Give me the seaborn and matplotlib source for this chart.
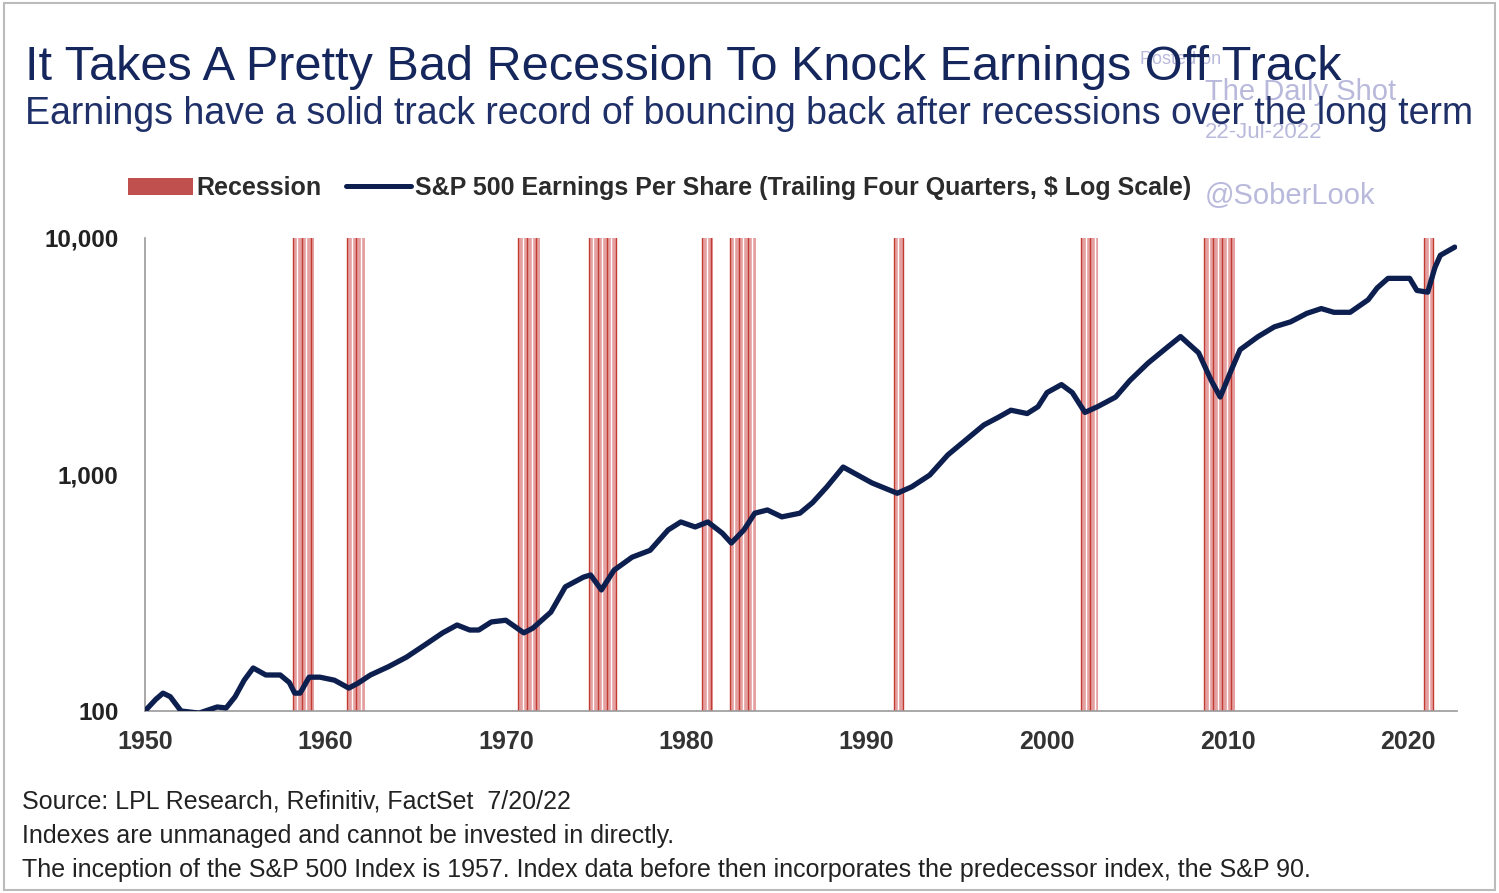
import numpy as np
import pandas as pd
import seaborn as sns
import matplotlib.pyplot as plt
from matplotlib.patches import Patch, Rectangle
from matplotlib.lines import Line2D

# S&P 500 EPS (trailing four quarters, log scale)
years = [1950.0, 1950.6, 1951.0, 1951.4, 1952.0, 1953.0, 1954.0, 1954.5, 1955.0, 1955.5,
         1956.0, 1956.7, 1957.5, 1958.0, 1958.3, 1958.6, 1959.1, 1959.7, 1960.5, 1961.3,
         1961.8, 1962.5, 1963.5, 1964.5, 1965.5, 1966.5, 1967.3, 1968.0, 1968.5, 1969.2,
         1970.0, 1971.0, 1971.5, 1972.5, 1973.3, 1974.3, 1974.7, 1975.3, 1976.0, 1977.0,
         1978.0, 1979.0, 1979.7, 1980.5, 1981.2, 1982.0, 1982.5, 1983.2, 1983.8, 1984.5,
         1985.3, 1986.3, 1987.0, 1987.8, 1988.7, 1989.5, 1990.3, 1991.7, 1992.5, 1993.5,
         1994.5, 1995.5, 1996.5, 1997.3, 1998.0, 1998.9, 1999.5, 2000.0, 2000.8, 2001.4,
         2002.1, 2002.8, 2003.8, 2004.6, 2005.6, 2006.5, 2007.4, 2008.4, 2009.1, 2009.6,
         2010.2, 2010.7, 2011.7, 2012.6, 2013.5, 2014.4, 2015.2, 2015.9, 2016.8, 2017.8,
         2018.3, 2018.9, 2020.1, 2020.5, 2021.1, 2021.5, 2021.8, 2022.6]
eps = [100, 112, 119, 115, 100, 98, 104, 103, 115, 135,
       152, 142, 142, 132, 119, 119, 139, 139, 135, 125,
       131, 142, 154, 169, 190, 214, 231, 220, 220, 238,
       242, 214, 224, 262, 335, 368, 376, 325, 394, 447,
       478, 583, 630, 600, 630, 565, 513, 583, 686, 708,
       662, 686, 760, 887, 1075, 995, 921, 833, 887, 995,
       1210, 1400, 1620, 1745, 1870, 1810, 1935, 2220, 2400, 2220,
       1830, 1935, 2125, 2500, 2960, 3370, 3830, 3270, 2500, 2125,
       2750, 3370, 3830, 4210, 4420, 4800, 5030, 4850, 4850, 5480,
       6150, 6750, 6750, 6000, 5900, 7500, 8450, 9150]

rec_start = [1958.2, 1961.2, 1970.7, 1974.6, 1980.9, 1982.4, 1991.5, 2001.9, 2008.7, 2020.9]
rec_end = [1959.35, 1962.2, 1971.9, 1976.15, 1981.5, 1983.85, 1992.05, 2002.8, 2010.4, 2021.45]

y_ticks = [100, 1000, 10000]
y_labels = ['100', '1,000', '10,000']
x_ticks = list(range(1950, 2030, 10))

navy = '#0d1f4f'
pink = '#e5a1a1'
dark_red = '#c23b32'

sns.set_style('white')
plt.rcParams['font.family'] = ['Liberation Sans', 'DejaVu Sans']

fig = plt.figure(figsize=(14.99, 8.93), dpi=100)
ax = fig.add_axes([0.0967, 0.2038, 0.875, 0.5297])

for s, e in zip(rec_start, rec_end):
    ax.axvspan(s, e, color=pink, lw=0, zorder=1)
    for i, p in enumerate(np.arange(s, e, 0.25)):
        ax.axvline(p, color=dark_red if i % 2 == 0 else 'white', lw=1.0, zorder=1.5)

df = pd.DataFrame({'year': years, 'eps': eps})
sns.lineplot(data=df, x='year', y='eps', color=navy, lw=3.8, ax=ax, zorder=3)
ax.get_lines()[-1].set_solid_joinstyle('round')

ax.set_yscale('log')
ax.set_ylim(100, 10000)
ax.set_xlim(1950, 2022.7)
ax.set_yticks(y_ticks)
ax.set_yticklabels(y_labels)
ax.minorticks_off()
ax.set_xticks(x_ticks)
ax.set_xlabel('')
ax.set_ylabel('')
for lab in ax.get_yticklabels():
    lab.set_fontweight('bold')
    lab.set_fontsize(17.5)
    lab.set_color('#222222')
for lab in ax.get_xticklabels():
    lab.set_fontweight('bold')
    lab.set_fontsize(18)
    lab.set_color('#333333')
ax.tick_params(axis='both', direction='out', length=5, width=1, color='#888888')
ax.tick_params(axis='y', pad=14)
ax.tick_params(axis='x', pad=9)
sns.despine(ax=ax, top=True, right=True)
for sp in ['left', 'bottom']:
    ax.spines[sp].set_color('#999999')
    ax.spines[sp].set_linewidth(1.2)

# watermark (drawn first so the title sits over it)
wm = '#b9b9dc'
fig.text(1140 / 1499, 1 - 60 / 893, 'Posted on', fontsize=13, color=wm, va='center')
fig.text(1205 / 1499, 1 - 92 / 893, 'The Daily Shot', fontsize=21, color=wm, va='center')
fig.text(1205 / 1499, 1 - 132 / 893, '22-Jul-2022', fontsize=16, color=wm, va='center')
fig.text(1205 / 1499, 1 - 196 / 893, '@SoberLook', fontsize=21, color=wm, va='center')

# titles
fig.text(25 / 1499, 1 - 67 / 893, 'It Takes A Pretty Bad Recession To Knock Earnings Off Track',
         fontsize=35, color='#14265c', va='center', ha='left')
fig.text(25 / 1499, 1 - 114 / 893,
         'Earnings have a solid track record of bouncing back after recessions over the long term',
         fontsize=27, color='#1f3068', va='center', ha='left')

# legend
handles = [Patch(facecolor='#c0504d', edgecolor='none'),
           Line2D([], [], color=navy, lw=3.6)]
labels = ['Recession', 'S&P 500 Earnings Per Share (Trailing Four Quarters, $ Log Scale)']
leg = fig.legend(handles, labels, loc='center left', bbox_to_anchor=(105 / 1499, 1 - 188 / 893),
                 ncol=2, frameon=False, handlelength=2.6, handletextpad=0.15, columnspacing=1.0,
                 prop={'size': 18, 'weight': 'bold'})
for t in leg.get_texts():
    t.set_color('#2b2b2b')

# footnotes
foot = ['Source: LPL Research, Refinitiv, FactSet  7/20/22',
        'Indexes are unmanaged and cannot be invested in directly.',
        'The inception of the S&P 500 Index is 1957. Index data before then incorporates the predecessor index, the S&P 90.']
for txt, yy in zip(foot, [802, 836, 870]):
    fig.text(22 / 1499, 1 - yy / 893, txt, fontsize=18, color='#222222', va='center', ha='left')

# thin outer frame
fig.patches.append(Rectangle((0.003, 0.003), 0.994, 0.994, transform=fig.transFigure,
                             fill=False, edgecolor='#bbbbbb', lw=1.5))

fig.savefig('out.png', dpi=100)
